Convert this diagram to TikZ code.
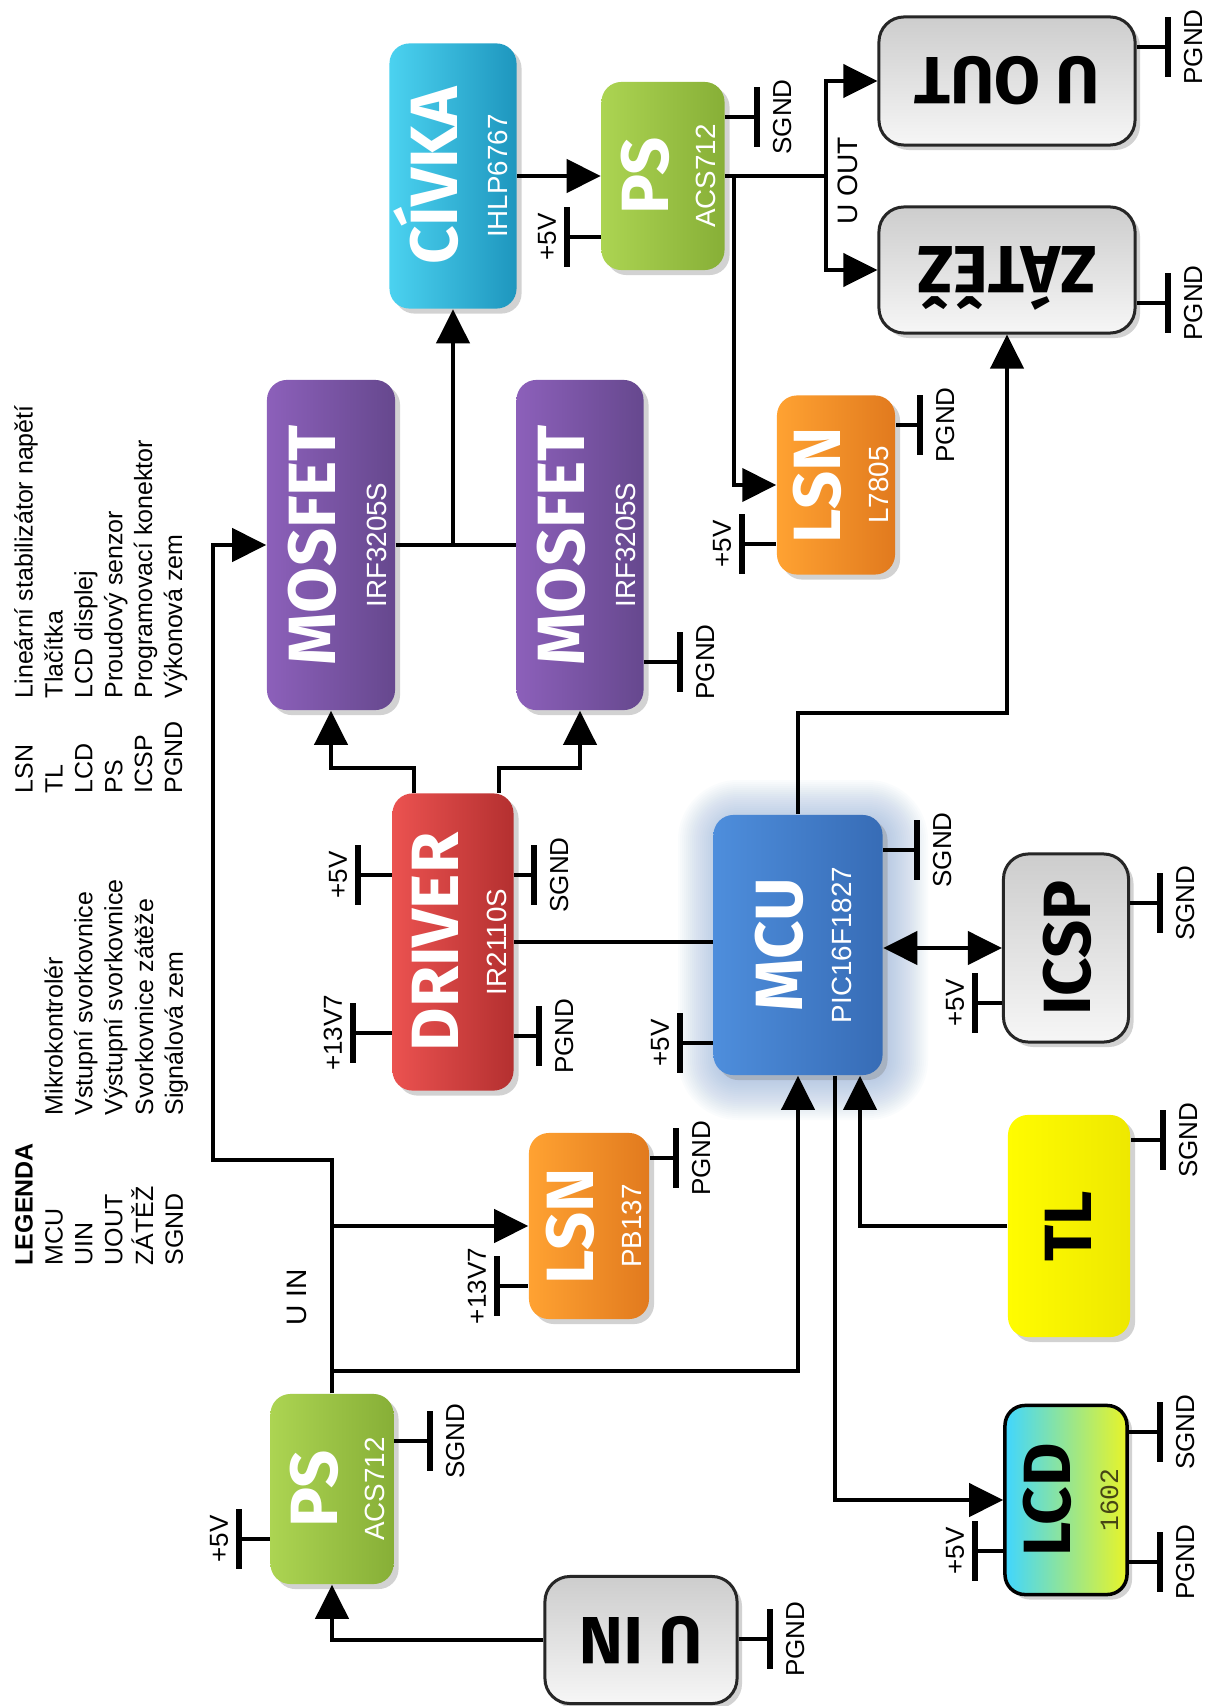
\documentclass[tikz,border=0pt]{standalone}
\usepackage{fontspec}
\setmainfont{Liberation Sans}
\newfontfamily\ttlfont{Fira Sans}
\newfontfamily\lcdfont{Liberation Mono}
\usepackage{graphicx}
\usetikzlibrary{positioning, arrows.meta, shadows}

\definecolor{cyanL}{RGB}{75,210,240}
\definecolor{cyanD}{RGB}{30,150,190}
\definecolor{greenL}{RGB}{172,212,82}
\definecolor{greenD}{RGB}{135,175,55}
\definecolor{purpL}{RGB}{140,96,186}
\definecolor{purpD}{RGB}{102,72,142}
\definecolor{orangeL}{RGB}{255,162,50}
\definecolor{orangeD}{RGB}{225,122,30}
\definecolor{redL}{RGB}{235,82,80}
\definecolor{redD}{RGB}{180,48,48}
\definecolor{blueL}{RGB}{78,142,220}
\definecolor{blueD}{RGB}{55,108,182}
\definecolor{glowC}{RGB}{140,170,215}
\definecolor{greyT}{RGB}{205,205,205}
\definecolor{greyB}{RGB}{246,246,246}
\definecolor{lcdL}{RGB}{64,214,255}
\definecolor{lcdR}{RGB}{232,244,40}
\definecolor{yelL}{RGB}{255,252,0}
\definecolor{yelD}{RGB}{238,232,0}
\definecolor{lcdText}{RGB}{70,70,20}

\begin{document}
\begin{tikzpicture}[x=0.01cm, y=-0.01cm, >={Triangle[length=0.34cm, width=0.33cm]},
    blk/.style={rectangle, rounded corners=0.2cm, inner sep=0pt,
        drop shadow={shadow xshift=0.05cm, shadow yshift=-0.05cm, opacity=0.35}},
    gblk/.style={blk, draw=black!85, line width=0.03cm, top color=greyT, bottom color=greyB, rounded corners=0.25cm},
    ttl/.style={rotate=90, anchor=base, inner sep=0pt, text=white, font=\ttlfont\bfseries\fontsize{19}{19}\selectfont},
    flip/.style={rotate=180, anchor=base, inner sep=0pt, text=black, font=\ttlfont\bfseries\fontsize{19}{19}\selectfont},
    subt/.style={rotate=90, anchor=base, inner sep=0pt, text=white, font=\fontsize{7.9}{8}\selectfont},
    wire/.style={line width=0.04cm},
    bar/.style={rectangle, fill=black, inner sep=0pt, minimum width=0.055cm, minimum height=0.6cm},
    lbl/.style={inner sep=0.5pt, font=\fontsize{7.4}{8}\selectfont},
    wlbl/.style={inner sep=0.5pt, font=\fontsize{8}{8}\selectfont}]

    \useasboundingbox (0,0) rectangle (1205,1706);
    \fill[white] (0,0) rectangle (1205,1706);

    % legend
    \node[anchor=south west, inner sep=0pt, font=\fontsize{7.1}{8.5}\selectfont] (legA) at (11,1266)
        {\rotatebox{90}{\begin{tabular}{@{}p{1.5cm}@{}l@{}}
            \textbf{LEGENDA} & \\
            MCU & Mikrokontrolér \\
            UIN & Vstupní svorkovnice \\
            UOUT & Výstupní svorkovnice \\
            ZÁTĚŽ & Svorkovnice zátěže \\
            SGND & Signálová zem
        \end{tabular}}};
    \node[anchor=south west, inner sep=0pt, font=\fontsize{7.1}{8.5}\selectfont] (legB) at (11,794)
        {\rotatebox{90}{\begin{tabular}{@{}p{0.95cm}@{}l@{}}
            LSN & Lineární stabilizátor napětí \\
            TL & Tlačítka \\
            LCD & LCD displej \\
            PS & Proudový senzor \\
            ICSP & Programovací konektor \\
            PGND & Výkonová zem
        \end{tabular}}};

    % power path blocks
    \node[blk, left color=cyanL, right color=cyanD, minimum width=1.27cm, minimum height=2.65cm] (civka) at (453,176) {};
    \node[blk, left color=greenL, right color=greenD, minimum width=1.23cm, minimum height=1.88cm] (psA) at (663,176) {};
    \node[gblk, minimum width=2.56cm, minimum height=1.28cm] (uout) at (1007,81) {};
    \node[gblk, minimum width=2.56cm, minimum height=1.26cm] (zatez) at (1007,270) {};
    \node[blk, left color=purpL, right color=purpD, minimum width=1.28cm, minimum height=3.30cm] (mosA) at (331,545) {};
    \node[blk, left color=purpL, right color=purpD, minimum width=1.27cm, minimum height=3.30cm] (mosB) at (580,545) {};
    \node[blk, left color=orangeL, right color=orangeD, minimum width=1.18cm, minimum height=1.79cm] (lsnA) at (836,485) {};
    \node[blk, left color=redL, right color=redD, minimum width=1.21cm, minimum height=2.97cm] (drv) at (453,942) {};

    % soft glow behind the controller
    \foreach \g in {2,4,...,40} {
        \pgfmathsetmacro\rr{0.2+\g*0.01}
        \fill[glowC, opacity=0.035, rounded corners=\rr cm] ({798-85-\g+5},{945-130-\g+5}) rectangle ({798+85+\g+5},{945+130+\g+5});
    }
    \node[blk, left color=blueL, right color=blueD, minimum width=1.69cm, minimum height=2.60cm] (mcu) at (798,945) {};

    % control side blocks
    \node[gblk, minimum width=1.25cm, minimum height=1.88cm] (icsp) at (1066,948) {};
    \node[blk, left color=yelL, right color=yelD, minimum width=1.22cm, minimum height=2.22cm] (tl) at (1069,1226) {};
    \node[blk, draw=black, line width=0.035cm, left color=lcdL, right color=lcdR, minimum width=1.22cm, minimum height=1.89cm] (lcd) at (1066,1500) {};
    \node[blk, left color=orangeL, right color=orangeD, minimum width=1.20cm, minimum height=1.86cm] (lsnB) at (589,1226) {};
    \node[blk, left color=greenL, right color=greenD, minimum width=1.23cm, minimum height=1.90cm] (psB) at (332,1489) {};
    \node[gblk, minimum width=1.92cm, minimum height=1.27cm] (uin) at (641,1640) {};

    % block titles
    \node[ttl] (civkaT) at ([xshift=0.04cm]civka.center) {CÍVKA};
    \node[subt] (civkaS) at ([xshift=0.54cm]civka.center) {IHLP6767};
    \node[ttl] (psAT) at ([xshift=0.05cm]psA.center) {PS};
    \node[subt] (psAS) at ([xshift=0.52cm]psA.center) {ACS712};
    \node[ttl] (mosAT) at ([xshift=0.04cm]mosA.center) {MOSFET};
    \node[subt] (mosAS) at ([xshift=0.55cm]mosA.center) {IRF3205S};
    \node[ttl] (mosBT) at ([xshift=0.04cm]mosB.center) {MOSFET};
    \node[subt] (mosBS) at ([xshift=0.55cm]mosB.center) {IRF3205S};
    \node[ttl] (lsnAT) at ([xshift=0.04cm]lsnA.center) {LSN};
    \node[subt] (lsnAS) at ([xshift=0.52cm]lsnA.center) {L7805};
    \node[ttl] (drvT) at ([xshift=0.05cm]drv.center) {DRIVER};
    \node[subt] (drvS) at ([xshift=0.53cm]drv.center) {IR2110S};
    \node[ttl] (mcuT) at ([xshift=0.04cm]mcu.center) {MCU};
    \node[subt] (mcuS) at ([xshift=0.53cm]mcu.center) {PIC16F1827};
    \node[ttl] (lsnBT) at ([xshift=0.04cm]lsnB.center) {LSN};
    \node[subt] (lsnBS) at ([xshift=0.52cm]lsnB.center) {PB137};
    \node[ttl] (psBT) at ([xshift=0.05cm]psB.center) {PS};
    \node[subt] (psBS) at ([xshift=0.52cm]psB.center) {ACS712};
    \node[ttl, text=black] (icspT) at ([xshift=0.24cm]icsp.center) {ICSP};
    \node[ttl, text=black] (tlT) at ([xshift=0.22cm]tl.center) {TL};
    \node[ttl, text=black] (lcdT) at ([xshift=0.04cm]lcd.center) {LCD};
    \node[subt, text=lcdText, font=\lcdfont\fontsize{7.5}{8}\selectfont] (lcdS) at ([xshift=0.52cm]lcd.center) {1602};
    \node[flip] (uinT) at ([yshift=0.23cm]uin.center) {U IN};
    \node[flip] (uoutT) at ([yshift=0.23cm]uout.center) {U OUT};
    \node[flip] (zatezT) at ([yshift=0.23cm]zatez.center) {ZÁTĚŽ};

    % connectors
    \coordinate (bend) at (213,1160);
    \coordinate (jmcu) at (332,1371);
    \coordinate (jlsn) at (332,1226);
    \coordinate (jout) at (826,176);
    \coordinate (jreg) at (734,176);
    \draw[wire, ->] (uin.west) -| (psB.south);
    \draw[wire, ->] (psB.north) |- (bend) |- (mosA.west);
    \draw[wire, ->] (jmcu) -| (mcu.south);
    \draw[wire, ->] (jlsn) -- (lsnB.west);
    \draw[wire, ->] ([xshift=0.37cm]mcu.south) |- (lcd.west);
    \draw[wire, ->] (tl.west) -| ([xshift=0.62cm]mcu.south);
    \draw[wire, ->] ([xshift=-0.39cm]drv.north) -- ++(0,-25) -| (mosA.south);
    \draw[wire, ->] ([xshift=0.46cm]drv.north) -- ++(0,-25) -| (mosB.south);
    \draw[wire] (mosA.east) -- (mosB.west);
    \draw[wire, ->] (civka.south |- mosA.east) -- (civka.south);
    \draw[wire, ->] (civka.east) -- (psA.west);
    \draw[wire] (psA.east) -- (jout);
    \draw[wire, ->] (jout) |- (uout.west);
    \draw[wire, ->] (jout) |- (zatez.west);
    \draw[wire, ->] (jreg) |- (lsnA.west);
    \draw[wire, ->] (mcu.north) -- ++(0,-101) -| (zatez.south);
    \draw[wire] (drv.east) -- (drv.east -| mcu.west);
    \draw[wire, <->] (mcu.east |- icsp.west) -- (icsp.west);

    \node[wlbl] (uinL) at (297,1297) {\rotatebox{90}{U IN}};
    \node[wlbl] (uoutL) at (848,181) {\rotatebox{90}{U OUT}};

    % supply pins on the left
    \foreach \blkname/\pos/\txt [count=\i] in {psA/{567,237}/+5V, lsnA/{742,544}/+5V, drv/{358,875}/+5V,
            drv/{353,1033}/+13V7, mcu/{680,1043}/+5V, icsp/{975,1003}/+5V, lcd/{975,1551}/+5V,
            lsnB/{497,1286}/+13V7, psB/{239,1539}/+5V} {
        \node[bar] (vcc\i) at (\pos) {};
        \node[lbl, left=0.05cm of vcc\i] (vcct\i) {\rotatebox{90}{\txt}};
        \draw[wire] (vcc\i.center) -- (vcc\i -| \blkname.west);
    }

    % ground pins on the right
    \foreach \blkname/\pos/\txt [count=\i] in {psA/{757,117}/SGND, uout/{1168,47}/PGND, zatez/{1168,303}/PGND,
            lsnA/{920,425}/PGND, mosB/{680,662}/PGND, drv/{534,875}/SGND, drv/{539,1036}/PGND,
            mcu/{917,850}/SGND, icsp/{1160,903}/SGND, tl/{1163,1140}/SGND, lcd/{1160,1432}/SGND,
            lcd/{1160,1562}/PGND, lsnB/{676,1158}/PGND, psB/{430,1441}/SGND, uin/{770,1639}/PGND} {
        \node[bar] (gnd\i) at (\pos) {};
        \node[lbl, right=0.1cm of gnd\i] (gndt\i) {\rotatebox{90}{\txt}};
        \draw[wire] (gnd\i.center) -- (gnd\i -| \blkname.east);
    }
\end{tikzpicture}
\end{document}
